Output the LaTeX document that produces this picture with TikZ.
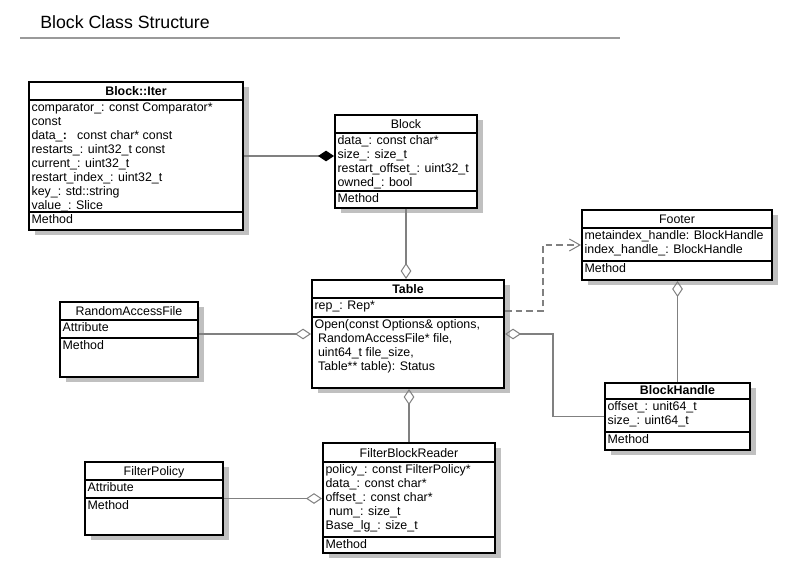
\documentclass[tikz,border=0pt]{standalone}
\usepackage{fontspec}
\setmainfont{Liberation Sans}
\usepackage{tikz}
\usetikzlibrary{arrows.meta, fit}
\definecolor{shadowgray}{HTML}{C0C0C0}
\definecolor{linegray}{HTML}{808080}
\definecolor{rulegray}{HTML}{9A9A9A}

% #1 name, #2 top left, #3 bottom right, #4 #5 dividers, #6 name row, #7 attributes, #8 methods
\newcommand{\umlclass}[8]{%
  \fill[shadowgray] ([shift={(6,5)}]#2) rectangle ([shift={(6,5)}]#3);
  \node[classbox, fit={(#2) (#3)}] (#1) {};
  \draw[classline] (#1.west |- 0,#4) -- (#1.east |- 0,#4);
  \draw[classline] (#1.west |- 0,#5) -- (#1.east |- 0,#5);
  \node[anchor=base, yshift=3.5pt] (#1-name) at (#1.north |- 0,#4) {#6};
  \node[members] (#1-attr) at (#1.west |- 0,#4) {\strut #7};
  \node[members] (#1-meth) at (#1.west |- 0,#5) {\strut #8};
}

\begin{document}
\begin{tikzpicture}[x=0.75pt, y=-0.75pt, font=\fontsize{9.3}{10.5}\selectfont,
  classbox/.style={draw, line width=1.5pt, fill=white, inner sep=0pt},
  classline/.style={line width=1.5pt},
  members/.style={anchor=north west, align=left, inner xsep=2.5pt, inner ysep=0pt, yshift=-1.3pt},
  link/.style={linegray, line width=1pt},
  agg/.style={link, -{Diamond[open, length=12pt, width=8pt, line width=0.75pt]}},
  comp/.style={link, -{Diamond[color=black, length=12pt, width=8pt]}},
  dep/.style={link, dash pattern=on 5pt off 3pt, -{Straight Barb[length=8pt, width=9pt, line width=0.75pt]}}]
  \useasboundingbox (0,0) rectangle (793,574);

  % Titel
  \node[anchor=base west, font=\fontsize{13.3}{16}\selectfont, inner sep=0pt] (title) at (40,29) {Block Class Structure};
  \draw[rulegray, line width=1.6pt] (20,38) -- (620,38);

  % Block::Iter
  \umlclass{iter}{29,82}{243,230}{100}{212}{\textbf{Block::Iter}}
    {comparator\_: const Comparator*\\const\\data\_\textbf{:}\ \ \ const char* const\\restarts\_: uint32\_t const\\current\_: uint32\_t\\restart\_index\_: uint32\_t\\key\_: std::string\\value\_: Slice}{Method}

  % Block
  \umlclass{block}{335,115}{477,208}{133}{191}{Block}
    {data\_: const char*\\size\_: size\_t\\restart\_offset\_: uint32\_t\\owned\_: bool}{Method}

  % Table
  \umlclass{table}{312,280}{504,388}{298}{317}{\textbf{Table}}
    {rep\_: Rep*}{Open(const Options\& options,\\\ RandomAccessFile* file,\\\ uint64\_t file\_size,\\\ Table** table): Status}

  % Footer
  \umlclass{footer}{582,210}{772,280}{228}{261}{Footer}
    {metaindex\_handle: BlockHandle\\index\_handle\_: BlockHandle}{Method}

  % BlockHandle
  \umlclass{bhandle}{605,383}{750,450}{399}{432}{\textbf{BlockHandle}}
    {offset\_: unit64\_t\\size\_: uint64\_t}{Method}

  % FilterBlockReader
  \umlclass{fbr}{323,443}{495,553}{462}{537}{FilterBlockReader}
    {policy\_: const FilterPolicy*\\data\_: const char*\\offset\_: const char*\\\ num\_: size\_t\\Base\_lg\_: size\_t}{Method}

  % RandomAccessFile
  \umlclass{raf}{60,302}{198,377}{320}{338}{RandomAccessFile}{Attribute}{Method}

  % FilterPolicy
  \umlclass{fpolicy}{85,462}{223,535}{480}{498}{FilterPolicy}{Attribute}{Method}

  % Beziehungen
  \draw[comp] (iter.east) -- (iter.east -| block.west);
  \draw[agg] (block.south) -- (block.south |- table.north);
  \draw[agg] (table.west -| raf.east) -- (table.west);
  \draw[agg] (fbr.north) -- (fbr.north |- table.south);
  \draw[agg] (fpolicy.east) -- (fpolicy.east -| fbr.west);
  \draw[dep] (table.east |- 0,311) -- ++(38,0) |- (footer.west);
  \draw[agg] (bhandle.west) -- ++(-51,0) |- (table.east);
  \draw[agg] (bhandle.north) -- (bhandle.north |- footer.south);
\end{tikzpicture}
\end{document}
